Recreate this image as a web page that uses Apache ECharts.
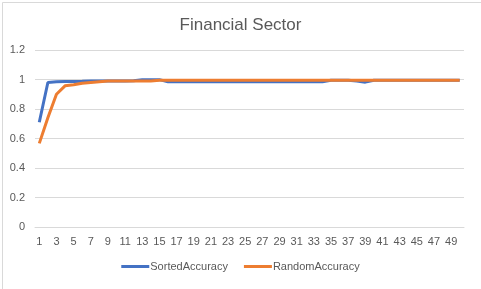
<!DOCTYPE html>
<html>
<head>
<meta charset="utf-8">
<script src="https://cdn.jsdelivr.net/npm/echarts@6/dist/echarts.min.js"></script>
<style>
html,body{margin:0;padding:0;background:#fff;}
#main{width:481px;height:289px;}
</style>
</head>
<body>
<div id="main"></div>
<script>
const categories = Array.from({length: 50}, (_, i) => String(i + 1));
const sortedAccuracy = [0.71,0.98,0.984,0.986,0.987,0.988,0.99,0.99,0.99,0.99,
  0.99,0.992,0.999,0.999,0.999,0.985,0.985,0.985,0.985,0.985,
  0.985,0.985,0.985,0.985,0.985,0.985,0.985,0.985,0.985,0.985,
  0.985,0.985,0.985,0.985,0.995,0.995,0.995,0.99,0.982,0.995,
  0.995,0.995,0.995,0.995,0.995,0.995,0.995,0.995,0.995,0.995];
const randomAccuracy = [0.567,0.74,0.90,0.957,0.965,0.975,0.98,0.985,0.99,0.99,
  0.99,0.99,0.99,0.99,0.995,0.995,0.995,0.995,0.995,0.995,
  0.995,0.995,0.995,0.995,0.995,0.995,0.995,0.995,0.995,0.995,
  0.995,0.995,0.995,0.995,0.995,0.995,0.995,0.995,0.995,0.995,
  0.995,0.995,0.995,0.995,0.995,0.995,0.995,0.995,0.995,0.995];
const seriesNames = ['SortedAccuracy', 'RandomAccuracy'];

const chart = echarts.init(document.getElementById('main'), null, {renderer: 'canvas'});
const textColor = '#595959';
const fontFamily = 'Liberation Sans, Arial, sans-serif';
chart.setOption({
  animation: false,
  backgroundColor: '#fff',
  graphic: [{
    type: 'rect', left: 0, top: 0, z: -1,
    shape: {x: 0.5, y: 0.5, width: 480, height: 288},
    style: {fill: 'none', stroke: '#d9d9d9', lineWidth: 1}
  }],
  title: {
    text: 'Financial Sector', left: 'center', top: 12,
    textStyle: {color: textColor, fontSize: 17, fontWeight: 'normal', fontFamily: fontFamily}
  },
  grid: {left: 35, right: 17, top: 50, bottom: 62, containLabel: false},
  legend: {
    bottom: 12, left: 'center', itemWidth: 28, itemHeight: 3, itemGap: 16,
    icon: 'rect',
    textStyle: {color: textColor, fontSize: 11, fontFamily: fontFamily, padding: [0,0,0,-4]},
    data: seriesNames
  },
  xAxis: {
    type: 'category', data: categories, boundaryGap: true,
    axisLine: {lineStyle: {color: '#d9d9d9'}},
    axisTick: {show: false},
    axisLabel: {interval: 1, color: textColor, fontSize: 11, fontFamily: fontFamily, margin: 9}
  },
  yAxis: {
    type: 'value', min: 0, max: 1.2, interval: 0.2,
    axisLine: {show: false}, axisTick: {show: false},
    splitLine: {lineStyle: {color: '#d9d9d9'}},
    axisLabel: {color: textColor, fontSize: 11, fontFamily: fontFamily, margin: 10,
      formatter: v => String(Math.round(v * 10) / 10)}
  },
  series: [
    {name: seriesNames[0], type: 'line', data: sortedAccuracy, showSymbol: false,
      symbol: 'none', lineStyle: {width: 3, color: '#4472C4'}, itemStyle: {color: '#4472C4'}, z: 2},
    {name: seriesNames[1], type: 'line', data: randomAccuracy, showSymbol: false,
      symbol: 'none', lineStyle: {width: 3, color: '#ED7D31'}, itemStyle: {color: '#ED7D31'}, z: 3}
  ]
});
</script>
</body>
</html>
